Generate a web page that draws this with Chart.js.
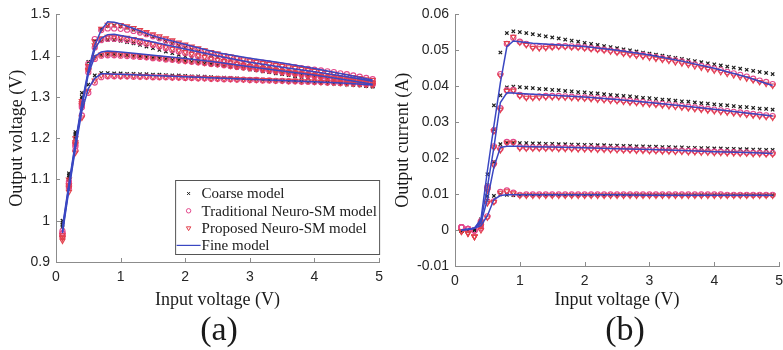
<!DOCTYPE html>
<html>
<head>
<meta charset="utf-8">
<script src="https://cdn.jsdelivr.net/npm/chart.js@4.4.0/dist/chart.umd.min.js"></script>
<style>
  body { margin: 0; background: #fff; width: 783px; height: 350px; overflow: hidden; position: relative; }
  canvas { position: absolute; top: 0; }
  #ca { left: 0; }
  #cb { left: 390px; }
  .cap { position: absolute; top: 309px; font: 34px "Liberation Serif", serif; color: #1a1a1a; line-height: 40px; transform: translateX(-50%); }
</style>
</head>
<body>
<canvas id="ca" width="390" height="350"></canvas>
<canvas id="cb" width="400" height="350"></canvas>
<div class="cap" style="left:219px">(a)</div>
<div class="cap" style="left:625px">(b)</div>
<script>
// input voltage samples (V)
const X_IN = [0.1,0.2,0.3,0.4,0.5,0.6,0.7,0.8,0.9,1.0,1.1,1.2,1.3,1.4,1.5,1.6,1.7,1.8,1.9,2.0,
  2.1,2.2,2.3,2.4,2.5,2.6,2.7,2.8,2.9,3.0,3.1,3.2,3.3,3.4,3.5,3.6,3.7,3.8,3.9,4.0,
  4.1,4.2,4.3,4.4,4.5,4.6,4.7,4.8,4.9];
const X_FINE = [0.1,0.2,0.3,0.4,0.5,0.6,0.7,0.8,0.9,1.0,1.2,1.5,2.0,2.5,3.0,3.5,4.0,4.5,4.9];

const X_TICKS = [0,1,2,3,4,5];
const A_Y_TICKS = [0.9,1.0,1.1,1.2,1.3,1.4,1.5];
const B_Y_TICKS = [-0.01,0,0.01,0.02,0.03,0.04,0.05,0.06];

// (a) output voltage (V)
const aCoarse1 = [1.000,1.115,1.215,1.310,1.385,1.435,1.465,1.472,1.473,1.471,
  1.468,1.463,1.458,1.452,1.446,1.440,1.434,1.429,1.424,1.419,
  1.414,1.410,1.405,1.401,1.397,1.393,1.389,1.386,1.383,1.380,
  1.377,1.374,1.371,1.368,1.365,1.362,1.359,1.356,1.353,1.350,
  1.347,1.344,1.341,1.338,1.335,1.332,1.329,1.327,1.325];
const aTrad1 = [0.975,1.095,1.190,1.285,1.380,1.440,1.462,1.466,1.466,1.465,
  1.463,1.460,1.456,1.452,1.447,1.442,1.437,1.432,1.427,1.423,
  1.418,1.414,1.410,1.406,1.403,1.399,1.396,1.393,1.390,1.388,
  1.385,1.383,1.381,1.378,1.376,1.374,1.372,1.370,1.368,1.366,
  1.364,1.362,1.360,1.357,1.355,1.352,1.349,1.346,1.343];
const aProp1 = [0.965,1.100,1.200,1.290,1.375,1.435,1.465,1.475,1.476,1.474,
  1.471,1.467,1.462,1.457,1.452,1.447,1.442,1.437,1.432,1.427,
  1.422,1.418,1.413,1.409,1.405,1.401,1.398,1.394,1.391,1.388,
  1.385,1.382,1.380,1.377,1.375,1.372,1.370,1.368,1.365,1.363,
  1.361,1.358,1.356,1.353,1.351,1.348,1.346,1.343,1.341];
const aFine1 = [0.985,1.090,1.190,1.285,1.365,1.425,1.462,1.482,1.481,1.477,1.466,1.448,1.427,1.407,1.394,1.382,1.369,1.354,1.341];

const aCoarse2 = [0.995,1.110,1.210,1.300,1.375,1.420,1.435,1.438,1.438,1.436,
  1.433,1.430,1.426,1.422,1.418,1.414,1.410,1.406,1.402,1.398,
  1.394,1.391,1.387,1.384,1.381,1.378,1.375,1.372,1.370,1.367,
  1.365,1.362,1.360,1.357,1.355,1.353,1.350,1.348,1.346,1.344,
  1.342,1.340,1.338,1.336,1.334,1.332,1.330,1.328,1.326];
const aTrad2 = [0.970,1.090,1.185,1.280,1.370,1.420,1.438,1.441,1.441,1.440,
  1.438,1.435,1.432,1.429,1.426,1.422,1.418,1.414,1.410,1.406,
  1.402,1.398,1.394,1.390,1.387,1.384,1.381,1.378,1.375,1.373,
  1.370,1.368,1.366,1.364,1.362,1.360,1.358,1.356,1.354,1.352,
  1.350,1.348,1.346,1.344,1.342,1.340,1.338,1.336,1.334];
const aProp2 = [0.960,1.085,1.190,1.285,1.365,1.425,1.442,1.446,1.446,1.445,
  1.443,1.440,1.437,1.433,1.429,1.425,1.421,1.417,1.413,1.409,
  1.405,1.401,1.397,1.393,1.390,1.387,1.384,1.381,1.378,1.375,
  1.372,1.370,1.367,1.365,1.363,1.361,1.359,1.357,1.355,1.353,
  1.351,1.349,1.347,1.345,1.343,1.341,1.339,1.337,1.335];
const aFine2 = [0.980,1.085,1.185,1.280,1.360,1.415,1.442,1.451,1.452,1.449,1.443,1.433,1.416,1.399,1.384,1.372,1.361,1.349,1.338];

const aCoarse3 = [0.990,1.105,1.205,1.295,1.365,1.398,1.402,1.403,1.403,1.402,
  1.401,1.400,1.398,1.397,1.395,1.394,1.392,1.390,1.389,1.387,
  1.385,1.383,1.381,1.379,1.377,1.375,1.373,1.371,1.369,1.367,
  1.365,1.363,1.361,1.359,1.357,1.355,1.353,1.351,1.349,1.347,
  1.345,1.343,1.341,1.339,1.337,1.335,1.333,1.331,1.329];
const aTrad3 = [0.968,1.085,1.180,1.275,1.360,1.392,1.400,1.401,1.401,1.400,
  1.399,1.398,1.397,1.396,1.394,1.393,1.391,1.390,1.388,1.387,
  1.385,1.384,1.382,1.380,1.379,1.377,1.375,1.373,1.372,1.370,
  1.368,1.366,1.364,1.362,1.360,1.358,1.356,1.354,1.352,1.350,
  1.348,1.346,1.344,1.342,1.340,1.338,1.336,1.334,1.332];
const aProp3 = [0.958,1.080,1.185,1.280,1.362,1.396,1.403,1.404,1.404,1.403,
  1.402,1.401,1.399,1.398,1.396,1.395,1.393,1.392,1.390,1.388,
  1.387,1.385,1.383,1.381,1.380,1.378,1.376,1.374,1.372,1.370,
  1.368,1.366,1.364,1.362,1.360,1.358,1.356,1.354,1.352,1.350,
  1.348,1.346,1.344,1.342,1.340,1.338,1.336,1.334,1.333];
const aFine3 = [0.975,1.080,1.180,1.275,1.355,1.398,1.409,1.411,1.410,1.409,1.406,1.401,1.393,1.384,1.373,1.363,1.353,1.341,1.331];

const aCoarse4 = [0.985,1.100,1.200,1.285,1.330,1.352,1.358,1.358,1.357,1.357,
  1.356,1.356,1.355,1.355,1.354,1.354,1.353,1.352,1.352,1.351,
  1.350,1.350,1.349,1.348,1.347,1.347,1.346,1.345,1.344,1.343,
  1.343,1.342,1.341,1.340,1.339,1.339,1.338,1.337,1.336,1.335,
  1.334,1.333,1.332,1.331,1.330,1.329,1.328,1.327,1.326];
const aTrad4 = [0.962,1.080,1.170,1.255,1.310,1.335,1.348,1.350,1.350,1.350,
  1.350,1.349,1.349,1.349,1.348,1.348,1.348,1.347,1.347,1.346,
  1.346,1.345,1.345,1.344,1.344,1.343,1.343,1.342,1.342,1.341,
  1.341,1.340,1.340,1.339,1.339,1.338,1.338,1.337,1.337,1.336,
  1.336,1.335,1.335,1.334,1.334,1.333,1.332,1.331,1.330];
const aProp4 = [0.952,1.070,1.165,1.250,1.315,1.340,1.352,1.352,1.352,1.351,
  1.351,1.351,1.350,1.350,1.349,1.349,1.349,1.348,1.348,1.347,
  1.347,1.346,1.346,1.345,1.345,1.344,1.344,1.343,1.343,1.342,
  1.342,1.341,1.341,1.340,1.340,1.339,1.339,1.338,1.338,1.337,
  1.336,1.336,1.335,1.334,1.333,1.332,1.331,1.330,1.329];
const aFine4 = [0.970,1.075,1.175,1.265,1.320,1.345,1.356,1.356,1.355,1.355,1.354,1.352,1.349,1.346,1.343,1.340,1.337,1.333,1.329];

// (b) output current (A)
const bCoarse1 = [-0.0003,-0.0002,0.0000,0.0030,0.0155,0.0347,0.0494,0.0548,0.0553,0.0551,
  0.0548,0.0545,0.0542,0.0539,0.0536,0.0533,0.0530,0.0527,0.0524,0.0521,
  0.0518,0.0515,0.0512,0.0509,0.0506,0.0503,0.0500,0.0497,0.0494,0.0491,
  0.0488,0.0485,0.0482,0.0479,0.0476,0.0473,0.0470,0.0467,0.0464,0.0461,
  0.0458,0.0455,0.0452,0.0449,0.0446,0.0443,0.0440,0.0437,0.0434];
const bTrad1 = [0.0008,0.0003,-0.0001,0.0025,0.0120,0.0277,0.0434,0.0518,0.0535,0.0524,
  0.0518,0.0511,0.0509,0.0510,0.0511,0.0512,0.0512,0.0511,0.0510,0.0508,
  0.0506,0.0504,0.0502,0.0500,0.0497,0.0494,0.0491,0.0489,0.0487,0.0484,
  0.0481,0.0478,0.0475,0.0472,0.0469,0.0465,0.0461,0.0457,0.0453,0.0449,
  0.0445,0.0440,0.0436,0.0432,0.0427,0.0421,0.0416,0.0412,0.0406];
const bProp1 = [-0.0003,-0.0008,-0.0019,0.0020,0.0115,0.0275,0.0430,0.0520,0.0538,0.0522,
  0.0515,0.0507,0.0506,0.0507,0.0509,0.0510,0.0510,0.0509,0.0508,0.0506,
  0.0504,0.0502,0.0500,0.0497,0.0494,0.0491,0.0488,0.0485,0.0483,0.0480,
  0.0477,0.0474,0.0471,0.0467,0.0464,0.0460,0.0456,0.0452,0.0448,0.0444,
  0.0440,0.0435,0.0431,0.0426,0.0422,0.0417,0.0412,0.0407,0.0402];
const bFine1 = [0.0000,0.0002,0.0005,0.0030,0.0165,0.0290,0.0410,0.0510,0.0526,0.0524,0.0520,0.0516,0.0511,0.0500,0.0487,0.0470,0.0450,0.0426,0.0402];

const bCoarse2 = [-0.0003,-0.0002,0.0000,0.0025,0.0125,0.0280,0.0375,0.0397,0.0399,0.0398,
  0.0396,0.0395,0.0393,0.0392,0.0390,0.0389,0.0387,0.0386,0.0384,0.0383,
  0.0381,0.0380,0.0378,0.0376,0.0375,0.0373,0.0372,0.0370,0.0368,0.0367,
  0.0365,0.0363,0.0362,0.0360,0.0358,0.0357,0.0355,0.0353,0.0352,0.0350,
  0.0348,0.0347,0.0345,0.0343,0.0342,0.0340,0.0338,0.0337,0.0335];
const bTrad2 = [0.0008,0.0003,-0.0001,0.0020,0.0115,0.0233,0.0339,0.0389,0.0390,0.0376,
  0.0371,0.0371,0.0372,0.0373,0.0373,0.0373,0.0372,0.0371,0.0370,0.0369,
  0.0368,0.0367,0.0365,0.0364,0.0362,0.0361,0.0359,0.0357,0.0356,0.0354,
  0.0352,0.0351,0.0349,0.0347,0.0345,0.0343,0.0341,0.0339,0.0337,0.0335,
  0.0333,0.0331,0.0329,0.0327,0.0325,0.0323,0.0321,0.0319,0.0317];
const bProp2 = [-0.0004,-0.0009,-0.0018,0.0015,0.0110,0.0230,0.0335,0.0387,0.0388,0.0373,
  0.0368,0.0368,0.0369,0.0370,0.0370,0.0370,0.0369,0.0368,0.0367,0.0366,
  0.0365,0.0363,0.0362,0.0360,0.0359,0.0357,0.0355,0.0354,0.0352,0.0350,
  0.0349,0.0347,0.0345,0.0343,0.0341,0.0339,0.0337,0.0335,0.0333,0.0331,
  0.0329,0.0327,0.0325,0.0323,0.0321,0.0319,0.0317,0.0315,0.0313];
const bFine2 = [0.0000,0.0002,0.0005,0.0025,0.0120,0.0230,0.0355,0.0382,0.0381,0.0380,0.0378,0.0375,0.0370,0.0363,0.0355,0.0346,0.0336,0.0326,0.0317];

const bCoarse3 = [-0.0003,-0.0002,0.0000,0.0022,0.0095,0.0190,0.0239,0.0243,0.0243,0.0242,
  0.0242,0.0241,0.0241,0.0240,0.0240,0.0239,0.0239,0.0238,0.0238,0.0237,
  0.0237,0.0236,0.0236,0.0235,0.0235,0.0234,0.0234,0.0233,0.0233,0.0232,
  0.0232,0.0231,0.0231,0.0230,0.0230,0.0229,0.0229,0.0228,0.0228,0.0227,
  0.0227,0.0226,0.0226,0.0225,0.0225,0.0224,0.0224,0.0223,0.0223];
const bTrad3 = [0.0008,0.0003,-0.0001,0.0015,0.0080,0.0185,0.0226,0.0245,0.0245,0.0231,
  0.0230,0.0230,0.0230,0.0230,0.0230,0.0229,0.0229,0.0229,0.0228,0.0228,
  0.0228,0.0227,0.0227,0.0226,0.0226,0.0225,0.0225,0.0224,0.0224,0.0223,
  0.0223,0.0222,0.0222,0.0221,0.0221,0.0220,0.0220,0.0219,0.0219,0.0218,
  0.0218,0.0217,0.0217,0.0216,0.0216,0.0215,0.0215,0.0214,0.0214];
const bProp3 = [-0.0004,-0.0009,-0.0018,0.0010,0.0075,0.0180,0.0222,0.0243,0.0243,0.0228,
  0.0227,0.0227,0.0227,0.0227,0.0227,0.0226,0.0226,0.0226,0.0225,0.0225,
  0.0225,0.0224,0.0224,0.0223,0.0223,0.0222,0.0222,0.0221,0.0221,0.0220,
  0.0220,0.0219,0.0219,0.0218,0.0218,0.0217,0.0217,0.0216,0.0216,0.0215,
  0.0215,0.0214,0.0214,0.0213,0.0213,0.0212,0.0212,0.0211,0.0211];
const bFine3 = [0.0000,0.0002,0.0005,0.0020,0.0085,0.0175,0.0230,0.0233,0.0233,0.0233,0.0232,0.0231,0.0229,0.0226,0.0224,0.0221,0.0218,0.0216,0.0213];

const bCoarse4 = [-0.0003,-0.0002,0.0000,0.0012,0.0082,0.0095,0.0099,0.0098,0.0097,0.0097,
  0.0097,0.0097,0.0097,0.0097,0.0097,0.0097,0.0097,0.0097,0.0097,0.0097,
  0.0097,0.0097,0.0097,0.0097,0.0097,0.0097,0.0097,0.0097,0.0097,0.0097,
  0.0097,0.0097,0.0097,0.0097,0.0097,0.0097,0.0097,0.0097,0.0097,0.0097,
  0.0097,0.0097,0.0097,0.0097,0.0097,0.0097,0.0097,0.0097,0.0097];
const bTrad4 = [0.0008,0.0003,-0.0001,0.0005,0.0038,0.0080,0.0106,0.0110,0.0104,0.0098,
  0.0099,0.0099,0.0099,0.0099,0.0099,0.0099,0.0099,0.0099,0.0099,0.0099,
  0.0099,0.0099,0.0099,0.0099,0.0099,0.0099,0.0099,0.0099,0.0099,0.0099,
  0.0099,0.0099,0.0099,0.0099,0.0099,0.0099,0.0099,0.0099,0.0099,0.0099,
  0.0099,0.0098,0.0098,0.0098,0.0098,0.0098,0.0098,0.0098,0.0098];
const bProp4 = [-0.0004,-0.0009,-0.0018,0.0000,0.0035,0.0078,0.0104,0.0108,0.0102,0.0096,
  0.0096,0.0096,0.0096,0.0096,0.0096,0.0096,0.0096,0.0096,0.0096,0.0096,
  0.0096,0.0096,0.0096,0.0096,0.0096,0.0096,0.0096,0.0096,0.0096,0.0096,
  0.0096,0.0096,0.0096,0.0096,0.0096,0.0096,0.0096,0.0096,0.0096,0.0096,
  0.0096,0.0096,0.0096,0.0096,0.0096,0.0096,0.0096,0.0096,0.0096];
const bFine4 = [0.0000,0.0002,0.0005,0.0012,0.0040,0.0085,0.0096,0.0098,0.0098,0.0098,0.0098,0.0098,0.0098,0.0098,0.0097,0.0097,0.0097,0.0097,0.0097];

const SERIES_NAMES = ['Coarse model', 'Traditional Neuro-SM model', 'Proposed Neuro-SM model', 'Fine model'];

// styles
const COARSE_STYLE = { pointStyle: 'crossRot', pointRadius: 2.4, borderColor: '#1c1c1c', borderWidth: 1.2, rotation: 0 };
const TRAD_STYLE = { pointStyle: 'circle', pointRadius: 2.6, borderColor: '#e4488c', borderWidth: 1.1, rotation: 0 };
const PROP_STYLE = { pointStyle: 'triangle', pointRadius: 3.0, borderColor: '#e2404c', borderWidth: 1.1, rotation: 180 };
const FINE_COLOR = '#3a47c2';
const AXIS_COLOR = '#8c8c8c';

function pts(xs, ys) {
  return xs.map((x, i) => ({ x: x, y: ys[i] }));
}

function markerSet(name, style, ys, order) {
  return {
    label: name, data: pts(X_IN, ys), showLine: false,
    pointStyle: style.pointStyle, pointRadius: style.pointRadius, pointRotation: style.rotation,
    pointBorderColor: style.borderColor, pointBorderWidth: style.borderWidth,
    pointBackgroundColor: 'rgba(0,0,0,0)', borderColor: style.borderColor,
    backgroundColor: 'rgba(0,0,0,0)', order: order
  };
}

function fineSet(ys) {
  return {
    label: 'Fine model', data: pts(X_FINE, ys), showLine: true,
    borderColor: FINE_COLOR, borderWidth: 1.5, pointRadius: 0, tension: 0, order: 0
  };
}

// small ticks pointing into the plot, like the original figure
const inwardTicks = {
  id: 'inwardTicks',
  afterDatasetsDraw(chart) {
    const { ctx, chartArea, scales } = chart;
    ctx.save();
    ctx.strokeStyle = AXIS_COLOR;
    ctx.lineWidth = 1;
    ctx.beginPath();
    scales.x.ticks.forEach(t => {
      const px = Math.round(scales.x.getPixelForValue(t.value)) + 0.5;
      ctx.moveTo(px, chartArea.bottom);
      ctx.lineTo(px, chartArea.bottom - 4);
    });
    scales.y.ticks.forEach(t => {
      const py = Math.round(scales.y.getPixelForValue(t.value)) + 0.5;
      ctx.moveTo(chartArea.left, py);
      ctx.lineTo(chartArea.left + 4, py);
    });
    ctx.stroke();
    ctx.restore();
  }
};

// boxed legend in the lower right corner of the plot
const boxLegend = {
  id: 'boxLegend',
  afterDraw(chart, args, opts) {
    if (!opts.show) return;
    const { ctx, chartArea } = chart;
    const w = 204, h = 74;
    const left = chartArea.right - w + 0.5;
    const top = chartArea.bottom - 8 - h + 0.5;
    ctx.save();
    ctx.fillStyle = '#fff';
    ctx.fillRect(left, top, w, h);
    ctx.strokeStyle = '#555';
    ctx.lineWidth = 1;
    ctx.strokeRect(left, top, w, h);
    ctx.font = '15px "Liberation Serif", serif';
    ctx.textBaseline = 'middle';
    ctx.fillStyle = '#1a1a1a';
    const styles = [COARSE_STYLE, TRAD_STYLE, PROP_STYLE];
    SERIES_NAMES.forEach((name, i) => {
      const cy = top + 13 + i * 17.3;
      if (i < 3) {
        const s = styles[i];
        ctx.save();
        ctx.strokeStyle = s.borderColor;
        ctx.fillStyle = 'rgba(0,0,0,0)';
        ctx.lineWidth = 1;
        Chart.helpers.drawPoint(ctx, { pointStyle: s.pointStyle, radius: s.pointRadius * 0.85, rotation: s.rotation, borderWidth: 1 }, left + 13, cy);
        ctx.restore();
      } else {
        ctx.save();
        ctx.strokeStyle = FINE_COLOR;
        ctx.lineWidth = 1.2;
        ctx.beginPath();
        ctx.moveTo(left + 1, cy);
        ctx.lineTo(left + 25, cy);
        ctx.stroke();
        ctx.restore();
      }
      ctx.fillText(name, left + 26, cy + 1);
    });
    ctx.restore();
  }
};

function makeChart(id, cfg) {
  const datasets = [];
  cfg.curves.forEach(c => {
    datasets.push(markerSet(SERIES_NAMES[0], COARSE_STYLE, c[0], 3));
    datasets.push(markerSet(SERIES_NAMES[1], TRAD_STYLE, c[1], 2));
    datasets.push(markerSet(SERIES_NAMES[2], PROP_STYLE, c[2], 1));
    datasets.push(fineSet(c[3]));
  });
  const tickFont = { family: '"Liberation Sans", Arial, sans-serif', size: 14 };
  const titleFont = { family: '"Liberation Serif", "Times New Roman", serif', size: 18 };
  return new Chart(document.getElementById(id), {
    type: 'scatter',
    data: { datasets: datasets },
    plugins: [inwardTicks, boxLegend],
    options: {
      responsive: false,
      animation: false,
      layout: { padding: { top: 14, right: cfg.padRight, left: 0, bottom: 0 } },
      plugins: {
        legend: { display: false },
        tooltip: { enabled: false },
        boxLegend: { show: cfg.legend }
      },
      scales: {
        x: {
          type: 'linear', min: 0, max: 5,
          afterBuildTicks: s => { s.ticks = X_TICKS.map(v => ({ value: v })); },
          afterFit: s => { s.height = cfg.xAxisHeight; },
          grid: { display: false, drawTicks: false, tickLength: 0 },
          border: { display: true, color: AXIS_COLOR, width: 1 },
          ticks: { font: tickFont, color: '#262626', padding: 7, maxRotation: 0, callback: v => String(v) },
          title: { display: true, text: 'Input voltage (V)', font: titleFont, color: '#1a1a1a', padding: { top: 0, bottom: 39 } }
        },
        y: {
          type: 'linear', min: cfg.yTicks[0], max: cfg.yTicks[cfg.yTicks.length - 1],
          afterBuildTicks: s => { s.ticks = cfg.yTicks.map(v => ({ value: v })); },
          afterFit: s => { s.width = cfg.yAxisWidth; },
          grid: { display: false, drawTicks: false, tickLength: 0 },
          border: { display: true, color: AXIS_COLOR, width: 1 },
          ticks: { font: tickFont, color: '#262626', padding: 6, callback: v => String(+v.toFixed(3)) },
          title: { display: true, text: cfg.yTitle, font: titleFont, color: '#1a1a1a', padding: { top: cfg.yTitlePad, bottom: 0 } }
        }
      }
    }
  });
}

makeChart('ca', {
  curves: [
    [aCoarse1, aTrad1, aProp1, aFine1],
    [aCoarse2, aTrad2, aProp2, aFine2],
    [aCoarse3, aTrad3, aProp3, aFine3],
    [aCoarse4, aTrad4, aProp4, aFine4]
  ],
  yTicks: A_Y_TICKS, yTitle: 'Output voltage (V)', yTitlePad: 6,
  yAxisWidth: 56, xAxisHeight: 88, padRight: 9, legend: true
});

makeChart('cb', {
  curves: [
    [bCoarse1, bTrad1, bProp1, bFine1],
    [bCoarse2, bTrad2, bProp2, bFine2],
    [bCoarse3, bTrad3, bProp3, bFine3],
    [bCoarse4, bTrad4, bProp4, bFine4]
  ],
  yTicks: B_Y_TICKS, yTitle: 'Output current (A)', yTitlePad: 2,
  yAxisWidth: 65, xAxisHeight: 84, padRight: 6, legend: false
});
</script>
</body>
</html>
